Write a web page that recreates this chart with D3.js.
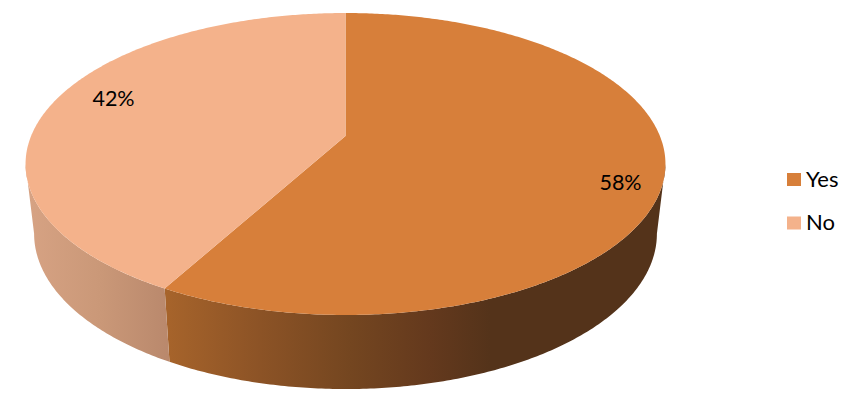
<!DOCTYPE html>
<html>
<head>
<meta charset="utf-8">
<script src="https://cdn.jsdelivr.net/npm/d3@7"></script>
<style>
  html, body { margin: 0; padding: 0; background: #fff; }
  text { font-family: Lato, "Open Sans", sans-serif; fill: #000; }
</style>
</head>
<body>
<svg id="chart" width="855" height="406"></svg>
<script>
var categories = ["Yes", "No"];
var values = [58, 42];
var topColors = ["#d77f3a", "#f4b28b"];

var svg = d3.select("#chart");
var color = d3.scaleOrdinal().domain(categories).range(topColors);

// pie tilted in perspective: k pulls the front of the disc towards the viewer
var k = 0.1854;
var topRim = { cx: 345.5, cy: 136, b: 314.4, a: 145.8 };
var bottomRim = { cx: 345.5, cy: 204.9, b: 306, a: 150 };

function project(rim, t, r) {
    var u = Math.sin(t) * r, v = -Math.cos(t) * r;
    var d = 1 - k * v;
    return [rim.cx + rim.b * u / d, rim.cy + rim.a * v / d];
}

function arcPoints(rim, a0, a1) {
    var n = Math.ceil(Math.abs(a1 - a0) / 0.01);
    return d3.range(n + 1).map(function(i) {
        return project(rim, a0 + (a1 - a0) * i / n, 1);
    });
}

var line = d3.line();
var pie = d3.pie().sort(null).value(function(d, i) { return values[i]; });
var slices = pie(categories);

// side wall shading runs left to right
var defs = svg.append("defs");
function wallGradient(id, stops) {
    var g = defs.append("linearGradient").attr("id", id)
        .attr("gradientUnits", "userSpaceOnUse")
        .attr("x1", 26).attr("x2", 665).attr("y1", 0).attr("y2", 0);
    stops.forEach(function(s) {
        g.append("stop").attr("offset", (s[0] - 26) / 639).attr("stop-color", s[1]);
    });
}
wallGradient("wall-Yes", [[165, "#a7642b"], [260, "#8c5326"], [350, "#744620"], [430, "#64391d"], [490, "#54331a"], [665, "#54331a"]]);
wallGradient("wall-No", [[30, "#d6a283"], [100, "#ca9878"], [170, "#b9886c"]]);

// only the part of the rim facing the viewer has a wall
var wallStart = Math.acos(-k), wallEnd = 2 * Math.PI - wallStart;
slices.forEach(function(s) {
    var a0 = Math.max(s.startAngle, wallStart), a1 = Math.min(s.endAngle, wallEnd);
    if (a1 <= a0) return;
    var pts = arcPoints(topRim, a0, a1).concat(arcPoints(bottomRim, a1, a0));
    svg.append("path")
        .attr("d", line(pts) + "Z")
        .attr("fill", "url(#wall-" + s.data + ")");
});

// top face
slices.forEach(function(s) {
    var pts = [project(topRim, 0, 0)].concat(arcPoints(topRim, s.startAngle, s.endAngle));
    svg.append("path")
        .attr("d", line(pts) + "Z")
        .attr("fill", color(s.data));
});

// data labels
var labelSpots = [[620.5, 190], [113.5, 106]];
svg.selectAll(".pct").data(values).enter().append("text")
    .attr("class", "pct")
    .attr("x", function(d, i) { return labelSpots[i][0]; })
    .attr("y", function(d, i) { return labelSpots[i][1]; })
    .attr("text-anchor", "middle")
    .style("font-size", "21.5px")
    .text(function(d) { return d + "%"; });

// legend
var legendY = d3.scalePoint().domain(categories).range([180, 223.5]);
var legend = svg.selectAll(".legend").data(categories).enter().append("g")
    .attr("class", "legend")
    .attr("transform", function(d) { return "translate(787," + legendY(d) + ")"; });
legend.append("rect")
    .attr("y", -7).attr("width", 14).attr("height", 13)
    .attr("fill", function(d) { return color(d); });
legend.append("text")
    .attr("x", 19).attr("y", 6.5)
    .style("font-size", "22px")
    .text(function(d) { return d; });
</script>
</body>
</html>
